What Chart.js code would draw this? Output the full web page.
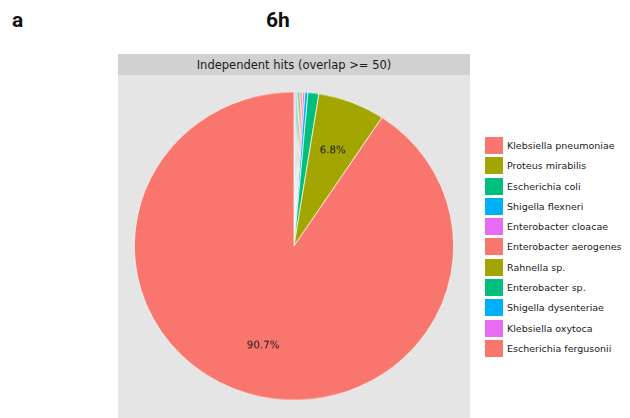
<!DOCTYPE html>
<html>
<head>
<meta charset="utf-8">
<script src="https://cdn.jsdelivr.net/npm/chart.js@4.4.0/dist/chart.umd.min.js"></script>
<style>
  body { margin: 0; background: #fff; }
  #page { position: relative; width: 630px; height: 418px; overflow: hidden; font-family: "DejaVu Sans", sans-serif; }
  .tag { position: absolute; font-family: Roboto, "Liberation Sans", sans-serif; font-weight: bold; font-size: 21px; color: #111; }
  #panel { position: absolute; left: 118px; top: 54px; width: 352px; height: 364px; background: #e5e5e5; }
  #strip { position: absolute; left: 0; top: 0; width: 352px; height: 21px; background: #d1d1d1;
           font-size: 11.5px; line-height: 22px; text-align: center; color: #1a1a1a; }
  #pieBox { position: absolute; left: 129px; top: 81px; width: 330px; height: 330px;
            transform: scaleY(0.9656); transform-origin: 50% 50%; }
  #legend { position: absolute; left: 485px; top: 137px; }
  .row { position: relative; height: 20.3px; }
  .key { position: absolute; left: 0; top: 0; width: 18px; height: 17px; }
  .lab { position: absolute; left: 22px; top: 0; height: 17px; line-height: 17px; font-size: 9.5px; color: #1a1a1a; white-space: nowrap; }
</style>
</head>
<body>
<div id="page">
  <div class="tag" style="left:12px; top:8px;">a</div>
  <div class="tag" style="left:266px; top:8px;">6h</div>
  <div id="panel"><div id="strip">Independent hits (overlap &gt;= 50)</div></div>
  <div id="pieBox"><canvas id="pieChart" width="330" height="330"></canvas></div>
  <div id="legend"></div>
</div>
<script>
// Especies en el orden de la leyenda y su porcentaje de hits
const species = [
    'Klebsiella pneumoniae', 'Proteus mirabilis', 'Escherichia coli', 'Shigella flexneri',
    'Enterobacter cloacae', 'Enterobacter aerogenes', 'Rahnella sp.', 'Enterobacter sp.',
    'Shigella dysenteriae', 'Klebsiella oxytoca', 'Escherichia fergusonii'
];
const percents = [90.7, 6.8, 1.1, 0.3, 0.2, 0.18, 0.18, 0.15, 0.15, 0.12, 0.12];
const palette = ['#F8766D', '#A3A500', '#00BF7D', '#00B0F6', '#E76BF3'];
const colors = species.map((s, i) => palette[i % palette.length]);

// Leyenda en HTML
const legendEl = document.getElementById('legend');
species.forEach((name, i) => {
    const row = document.createElement('div');
    row.className = 'row';
    row.innerHTML = `<div class="key" style="background:${colors[i]}"></div><div class="lab">${name}</div>`;
    legendEl.appendChild(row);
});

// Etiquetas de porcentaje dentro de los sectores grandes
const sliceLabels = {
    id: 'sliceLabels',
    afterDatasetsDraw(chart) {
        const ctx = chart.ctx;
        const meta = chart.getDatasetMeta(0);
        const values = chart.data.datasets[0].data;
        ctx.save();
        ctx.font = '10.3px "DejaVu Sans", sans-serif';
        ctx.fillStyle = '#1a1a1a';
        ctx.textAlign = 'center';
        ctx.textBaseline = 'middle';
        meta.data.forEach((arc, i) => {
            if (values[i] < 5) return;
            const mid = (arc.startAngle + arc.endAngle) / 2;
            const r = arc.outerRadius * 0.67;
            ctx.fillText(values[i].toFixed(1) + '%', arc.x + Math.cos(mid) * r, arc.y + Math.sin(mid) * r + 1);
        });
        ctx.restore();
    }
};

// El pastel se dibuja en sentido horario empezando por las especies menores
const pieLabels = species.slice().reverse();
const pieData = percents.slice().reverse();
const pieColors = colors.slice().reverse();

new Chart(document.getElementById('pieChart').getContext('2d'), {
    type: 'pie',
    data: {
        labels: pieLabels,
        datasets: [{
            data: pieData,
            backgroundColor: pieColors,
            borderColor: '#ffffff',
            borderWidth: 0.7
        }]
    },
    options: {
        responsive: false,
        animation: false,
        layout: { padding: 5 },
        plugins: {
            legend: { display: false },
            tooltip: { enabled: false }
        }
    },
    plugins: [sliceLabels]
});
</script>
</body>
</html>
